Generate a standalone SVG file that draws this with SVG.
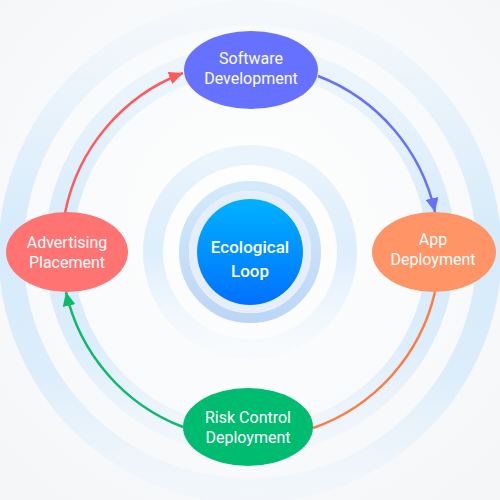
<svg xmlns="http://www.w3.org/2000/svg" width="500" height="500" viewBox="0 0 500 500">
  <defs>
    <style>
      .lbl { font-family: Roboto, "Liberation Sans", Arial, sans-serif; font-size: 16px; fill: #ffffff; text-anchor: middle; }
      .core { font-family: Roboto, "Liberation Sans", Arial, sans-serif; font-size: 17px; font-weight: 500; fill: #ffffff; text-anchor: middle; }
      .conn { fill: none; stroke-width: 2.5; }
    </style>
    <linearGradient id="bandGrad" x1="0" y1="0" x2="0" y2="1">
      <stop offset="0" stop-color="#DCEEFC" stop-opacity="0.12"/>
      <stop offset="0.45" stop-color="#D6EBFB" stop-opacity="1"/>
      <stop offset="0.75" stop-color="#D9ECFB" stop-opacity="0.9"/>
      <stop offset="1" stop-color="#E6F2FC" stop-opacity="0.25"/>
    </linearGradient>
    <linearGradient id="bandGrad2" x1="0" y1="0" x2="0" y2="1">
      <stop offset="0" stop-color="#DCEEFC" stop-opacity="0.4"/>
      <stop offset="0.45" stop-color="#D6EBFB" stop-opacity="1"/>
      <stop offset="0.75" stop-color="#D9ECFB" stop-opacity="0.9"/>
      <stop offset="1" stop-color="#E6F2FC" stop-opacity="0.35"/>
    </linearGradient>
    <linearGradient id="haloGrad" x1="0" y1="0" x2="0" y2="1">
      <stop offset="0" stop-color="#DDEEFC" stop-opacity="0.6"/>
      <stop offset="0.5" stop-color="#DDEEFC" stop-opacity="1"/>
      <stop offset="1" stop-color="#EAF4FD" stop-opacity="0.2"/>
    </linearGradient>
    <linearGradient id="ringGrad" x1="0" y1="0" x2="0" y2="1">
      <stop offset="0" stop-color="#D3EAFB"/>
      <stop offset="1" stop-color="#BCD6F6"/>
    </linearGradient>
    <linearGradient id="coreGrad" x1="0" y1="0" x2="0" y2="1">
      <stop offset="0" stop-color="#00B2FF"/>
      <stop offset="1" stop-color="#0070FF"/>
    </linearGradient>
    <radialGradient id="bgGrad" cx="0.5" cy="0.45" r="0.7">
      <stop offset="0" stop-color="#FFFFFF"/>
      <stop offset="1" stop-color="#F4F6F8"/>
    </radialGradient>
    <marker id="arrRed" markerUnits="userSpaceOnUse" markerWidth="15" markerHeight="13" refX="14" refY="6.5" orient="auto" viewBox="0 0 15 13">
      <path d="M0,0 L14,6.5 L0,13 z" fill="#FF5A5A"/>
    </marker>
    <marker id="arrBlue" markerUnits="userSpaceOnUse" markerWidth="15" markerHeight="13" refX="14" refY="6.5" orient="auto" viewBox="0 0 15 13">
      <path d="M0,0 L14,6.5 L0,13 z" fill="#6670FF"/>
    </marker>
    <marker id="arrGreen" markerUnits="userSpaceOnUse" markerWidth="15" markerHeight="13" refX="14" refY="6.5" orient="auto" viewBox="0 0 15 13">
      <path d="M0,0 L14,6.5 L0,13 z" fill="#0DBA6A"/>
    </marker>
  </defs>

  <!-- background -->
  <rect x="0" y="0" width="500" height="500" fill="url(#bgGrad)"/>

  <!-- decorative rings -->
  <g id="rings">
    <circle cx="250" cy="252" r="239" fill="none" stroke="url(#bandGrad)" stroke-width="25"/>
    <circle cx="250" cy="250" r="191" fill="none" stroke="url(#bandGrad2)" stroke-width="28"/>
    <circle cx="250" cy="252" r="97" fill="none" stroke="url(#haloGrad)" stroke-width="20"/>
    <circle cx="250" cy="252" r="66" fill="none" stroke="url(#ringGrad)" stroke-width="10"/>
    <circle cx="250" cy="252" r="57" fill="none" stroke="#E7EEFB" stroke-width="8"/>
  </g>

  <!-- connectors -->
  <g id="connectors">
    <path class="conn" stroke="#FF5A5A" d="M 65 213 A 189 189 0 0 1 183 73" marker-end="url(#arrRed)"/>
    <path class="conn" stroke="#6670FF" d="M 318 76 A 189 189 0 0 1 435 212" marker-end="url(#arrBlue)"/>
    <path class="conn" stroke="#FF7B45" d="M 435 292 A 189 189 0 0 1 313 428"/>
    <path class="conn" stroke="#0DBA6A" d="M 183 427 A 189 189 0 0 1 66 292" marker-end="url(#arrGreen)"/>
  </g>

  <!-- center -->
  <g id="ecological-loop">
    <circle cx="250" cy="252" r="53" fill="url(#coreGrad)"/>
    <text class="core" x="250" y="253">Ecological</text>
    <text class="core" x="250" y="277">Loop</text>
  </g>

  <g id="software-development">
    <ellipse cx="251" cy="70" rx="67" ry="39" fill="#6672FF"/>
    <text class="lbl" x="251" y="64">Software</text>
    <text class="lbl" x="251" y="84">Development</text>
  </g>

  <g id="app-deployment">
    <ellipse cx="434" cy="252" rx="62" ry="40" fill="#FF9466"/>
    <text class="lbl" x="433" y="245">App</text>
    <text class="lbl" x="433" y="265">Deployment</text>
  </g>

  <g id="risk-control-deployment">
    <ellipse cx="248" cy="427" rx="65" ry="39" fill="#00BC70"/>
    <text class="lbl" x="248" y="423">Risk Control</text>
    <text class="lbl" x="248" y="443">Deployment</text>
  </g>

  <g id="advertising-placement">
    <ellipse cx="67" cy="252" rx="61" ry="40" fill="#FF7373"/>
    <text class="lbl" x="67" y="248">Advertising</text>
    <text class="lbl" x="67" y="268">Placement</text>
  </g>
</svg>
